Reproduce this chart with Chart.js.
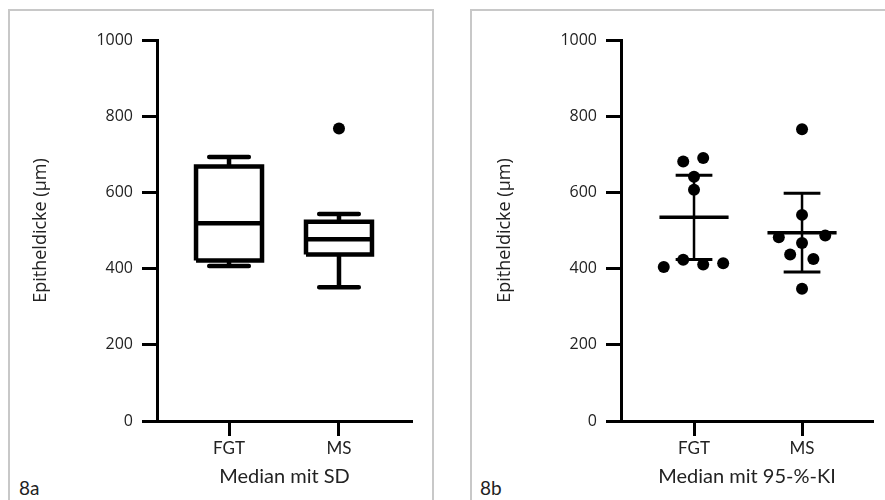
<!DOCTYPE html>
<html>
<head>
<meta charset="utf-8">
<script src="https://cdn.jsdelivr.net/npm/chart.js@4.4.1/dist/chart.umd.min.js"></script>
<style>
  html, body { margin: 0; padding: 0; background: #fff; overflow: hidden; width: 885px; height: 500px; }
  .panel { position: absolute; top: 9px; height: 520px; border: 2px solid #c8c8c8; box-sizing: border-box; }
  #panelA { left: 8px; width: 426px; }
  #panelB { left: 470px; width: 500px; }
  .tag { position: absolute; top: 479px; font: 19px Lato, sans-serif; line-height: 18px; color: #222; }
  canvas { position: absolute; top: 0; }
</style>
</head>
<body>
<div class="panel" id="panelA"></div>
<div class="panel" id="panelB"></div>
<div class="tag" style="left:19px">8a</div>
<div class="tag" style="left:480px">8b</div>
<canvas id="chartA" width="440" height="500" style="left:0"></canvas>
<canvas id="chartB" width="445" height="500" style="left:440px"></canvas>
<script>
// categories
const groups = ['FGT', 'MS'];
const groupPos = [1, 2];
const yTicks = [0, 200, 400, 600, 800, 1000];

// 8a: box plot (min, Q1, median, Q3, max, outliers)
const boxMin = [407, 351];
const boxQ1 = [421, 437];
const boxMedian = [519, 477];
const boxQ3 = [668, 523];
const boxMax = [693, 543];
const boxOutliers = [[], [768]];

// 8b: single values, median line and 95% CI
const fgtValues = [681, 690, 641, 607, 404, 423, 411, 414];
const fgtJitter = [-0.1, 0.085, 0, 0, -0.28, -0.1, 0.085, 0.27];
const msValues = [766, 541, 482, 487, 467, 437, 425, 347];
const msJitter = [0, 0, -0.215, 0.215, 0, -0.11, 0.105, 0];
const centerLine = [535, 494];
const ciLow = [424, 391];
const ciHigh = [645, 598];

const tickFont = { family: 'Open Sans', size: 16 };
const catFont = { family: 'Lato', size: 17 };
const textColor = '#222';

// line pieces, broken by null points
function seg(x1, y1, x2, y2) {
    return [{ x: x1, y: y1 }, { x: x2, y: y2 }, { x: x2, y: null }];
}

function lineSet(data, width, cap) {
    return {
        type: 'scatter',
        data: data,
        showLine: true,
        spanGaps: false,
        borderColor: '#000',
        borderWidth: width,
        borderCapStyle: cap || 'butt',
        borderJoinStyle: 'miter',
        pointRadius: 0,
        fill: false
    };
}

function dotSet(data) {
    return {
        type: 'scatter',
        data: data,
        pointRadius: 6,
        pointBackgroundColor: '#000',
        pointBorderWidth: 0,
        showLine: false
    };
}

function makeOptions(xMin, xMax, yWidth, titlePad, xTitle, rightPad) {
    return {
        responsive: false,
        animation: false,
        layout: { padding: { top: 40, right: rightPad, left: 0, bottom: 0 } },
        plugins: { legend: { display: false }, tooltip: { enabled: false } },
        scales: {
            x: {
                type: 'linear',
                min: xMin,
                max: xMax,
                afterBuildTicks: s => { s.ticks = groupPos.map(v => ({ value: v })); },
                afterFit: s => { s.height = 79; },
                ticks: {
                    color: textColor,
                    font: catFont,
                    padding: 2,
                    callback: v => groups[groupPos.indexOf(v)]
                },
                grid: { drawOnChartArea: false, tickLength: 15, tickWidth: 3, tickColor: '#000' },
                border: { display: true, color: '#000', width: 3 },
                title: {
                    display: true,
                    text: xTitle,
                    color: textColor,
                    font: { family: 'Lato', size: 20 },
                    padding: { top: 0, bottom: 11 }
                }
            },
            y: {
                min: 0,
                max: 1000,
                afterBuildTicks: s => { s.ticks = yTicks.map(v => ({ value: v })); },
                afterFit: s => { s.width = yWidth; },
                ticks: { color: textColor, font: tickFont, padding: 9, callback: v => String(v) },
                grid: { drawOnChartArea: false, tickLength: 15, tickWidth: 3, tickColor: '#000' },
                border: { display: true, color: '#000', width: 3 },
                title: {
                    display: true,
                    text: 'Epitheldicke (µm)',
                    color: textColor,
                    font: { family: 'Open Sans', size: 18 },
                    padding: { top: 30, bottom: 0 }
                }
            }
        }
    };
}

// ---- 8a box plot ----
const boxHalf = 0.3, capHalfA = 0.18;
let boxLines = [], medianLines = [], whiskers = [], caps = [], outlierPts = [];
groupPos.forEach((p, i) => {
    boxLines.push({ x: p - boxHalf, y: boxQ1[i] }, { x: p + boxHalf, y: boxQ1[i] },
        { x: p + boxHalf, y: boxQ3[i] }, { x: p - boxHalf, y: boxQ3[i] },
        { x: p - boxHalf, y: boxQ1[i] }, { x: p, y: null });
    medianLines.push(...seg(p - boxHalf, boxMedian[i], p + boxHalf, boxMedian[i]));
    whiskers.push(...seg(p, boxQ3[i], p, boxMax[i]), ...seg(p, boxQ1[i], p, boxMin[i]));
    caps.push(...seg(p - capHalfA, boxMax[i], p + capHalfA, boxMax[i]),
        ...seg(p - capHalfA, boxMin[i], p + capHalfA, boxMin[i]));
    boxOutliers[i].forEach(v => outlierPts.push({ x: p, y: v }));
});

const optA = makeOptions(0.345, 2.664, 157, 30, 'Median mit SD', 28);
new Chart(document.getElementById('chartA').getContext('2d'), {
    type: 'scatter',
    data: {
        datasets: [
            lineSet(boxLines, 4.5),
            lineSet(medianLines, 4.5),
            lineSet(whiskers, 4.5),
            lineSet(caps, 4.5, 'round'),
            dotSet(outlierPts)
        ]
    },
    options: optA
});

// ---- 8b dot plot ----
const lineHalf = 0.32, capHalfB = 0.17;
const fgtPts = fgtValues.map((v, i) => ({ x: groupPos[0] + fgtJitter[i], y: v }));
const msPts = msValues.map((v, i) => ({ x: groupPos[1] + msJitter[i], y: v }));
let centers = [], ciLines = [], ciCaps = [];
groupPos.forEach((p, i) => {
    centers.push(...seg(p - lineHalf, centerLine[i], p + lineHalf, centerLine[i]));
    ciLines.push(...seg(p, ciLow[i], p, ciHigh[i]));
    ciCaps.push(...seg(p - capHalfB, ciLow[i], p + capHalfB, ciLow[i]),
        ...seg(p - capHalfB, ciHigh[i], p + capHalfB, ciHigh[i]));
});

const optB = makeOptions(0.324, 2.657, 181, 54, 'Median mit 95-%-KI', 12);
optB.scales.y.title.padding = { top: 54, bottom: 0 };
new Chart(document.getElementById('chartB').getContext('2d'), {
    type: 'scatter',
    data: {
        datasets: [
            dotSet(fgtPts),
            dotSet(msPts),
            lineSet(ciLines, 2.5),
            lineSet(ciCaps, 3),
            lineSet(centers, 3.5)
        ]
    },
    options: optB
});
</script>
</body>
</html>
